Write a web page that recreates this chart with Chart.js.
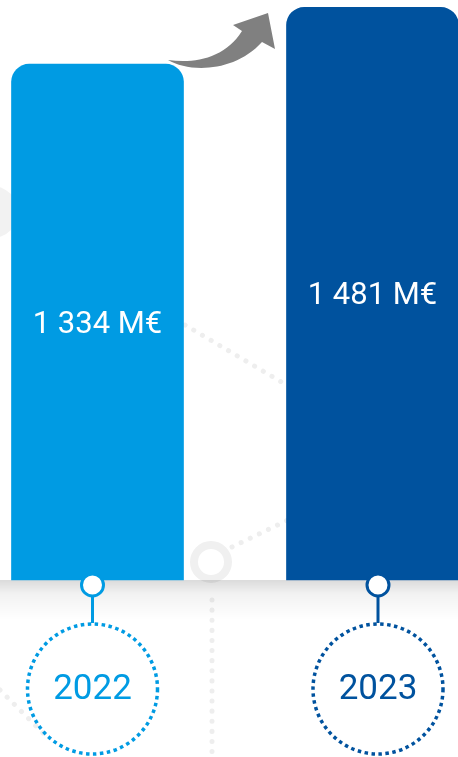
<!DOCTYPE html>
<html>
<head>
<meta charset="utf-8">
<script src="https://cdn.jsdelivr.net/npm/chart.js@4"></script>
<style>
  html, body { margin: 0; padding: 0; background: #fff; }
  canvas { display: block; }
</style>
</head>
<body>
<canvas id="js--chart" width="458" height="757"></canvas>
<script>
// data
const years = ['2022', '2023'];
const amounts = [1334, 1481];
const unit = 'M€';
const barColors = ['#009be3', '#00529e'];

function formatAmount(v) {
  return String(v).replace(/\B(?=(\d{3})+(?!\d))/g, ' ') + ' ' + unit;
}

// faint network pattern behind everything
const backdrop = {
  id: 'backdrop',
  beforeDatasetsDraw(chart) {
    const ctx = chart.ctx;
    ctx.save();
    ctx.fillStyle = '#f2f2f2';
    ctx.beginPath();
    ctx.arc(-8, 212, 26, 0, Math.PI * 2);
    ctx.fill();

    ctx.strokeStyle = '#eeeeee';
    ctx.lineWidth = 5;
    ctx.lineCap = 'round';
    ctx.setLineDash([0.1, 10]);
    const lines = [[185, 325, 295, 390], [232, 547, 292, 518], [212, 600, 212, 757], [0, 690, 45, 735]];
    lines.forEach(l => {
      ctx.beginPath();
      ctx.moveTo(l[0], l[1]);
      ctx.lineTo(l[2], l[3]);
      ctx.stroke();
    });
    ctx.setLineDash([]);
    ctx.strokeStyle = '#f0f0f0';
    ctx.lineWidth = 8;
    ctx.beginPath();
    ctx.arc(211, 562, 17, 0, Math.PI * 2);
    ctx.stroke();

    // shadow under the bar panel
    const base = chart.scales.y.getPixelForValue(0);
    const g = ctx.createLinearGradient(0, base, 0, base + 40);
    g.addColorStop(0, 'rgba(0,0,0,0.14)');
    g.addColorStop(0.35, 'rgba(0,0,0,0.05)');
    g.addColorStop(1, 'rgba(0,0,0,0)');
    ctx.fillStyle = g;
    ctx.fillRect(0, base, chart.width, 40);
    ctx.restore();
  }
};

// values, markers, year circles and arrow
const decor = {
  id: 'decor',
  afterDatasetsDraw(chart) {
    const ctx = chart.ctx;
    const bars = chart.getDatasetMeta(0).data;
    ctx.save();
    bars.forEach((bar, i) => {
      const color = barColors[i];
      // value inside bar
      ctx.fillStyle = '#fff';
      ctx.font = '400 31px Roboto';
      ctx.textAlign = 'center';
      ctx.textBaseline = 'middle';
      ctx.fillText(formatAmount(amounts[i]), bar.x, (bar.y + bar.base) / 2 + 3);

      // pin marker
      const mx = bar.x + (i === 0 ? -5 : 5.5);
      const my = bar.base + 5;
      ctx.strokeStyle = color;
      ctx.lineWidth = 3;
      ctx.beginPath();
      ctx.moveTo(mx, my + 11);
      ctx.lineTo(mx, my + 38);
      ctx.stroke();
      ctx.beginPath();
      ctx.arc(mx, my, 11, 0, Math.PI * 2);
      ctx.fillStyle = '#fff';
      ctx.fill();
      ctx.stroke();

      // dotted circle with year
      const cy = my + 104;
      ctx.lineWidth = 3.5;
      ctx.setLineDash([3.5, 3.5]);
      ctx.beginPath();
      ctx.arc(mx, cy, 65, 0, Math.PI * 2);
      ctx.stroke();
      ctx.setLineDash([]);
      ctx.fillStyle = color;
      ctx.font = '400 35px Roboto';
      ctx.fillText(years[i], mx, cy + 1);
    });

    // growth arrow
    ctx.fillStyle = '#808080';
    ctx.beginPath();
    ctx.moveTo(168, 60);
    ctx.bezierCurveTo(190, 73, 235, 72, 262, 42);
    ctx.lineTo(275, 49);
    ctx.lineTo(268, 13);
    ctx.lineTo(233, 25);
    ctx.lineTo(242, 31);
    ctx.bezierCurveTo(225, 58, 195, 64, 168, 60);
    ctx.closePath();
    ctx.fill();
    ctx.restore();
  }
};

const config = {
  type: 'bar',
  data: {
    labels: years,
    datasets: [{
      data: amounts,
      backgroundColor: barColors,
      borderWidth: 0,
      borderRadius: { topLeft: 18, topRight: 18, bottomLeft: 0, bottomRight: 0 },
      borderSkipped: 'bottom',
      barThickness: 172,
      clip: false
    }]
  },
  options: {
    responsive: false,
    animation: false,
    layout: { padding: { left: 97.5, right: 85.5, top: 0, bottom: 177 } },
    plugins: { legend: { display: false }, tooltip: { enabled: false } },
    scales: {
      x: { display: false, offset: false },
      y: { display: false, min: 0, max: 1500 }
    }
  },
  plugins: [backdrop, decor]
};

const chart1 = new Chart(document.getElementById('js--chart'), config);
</script>
</body>
</html>
